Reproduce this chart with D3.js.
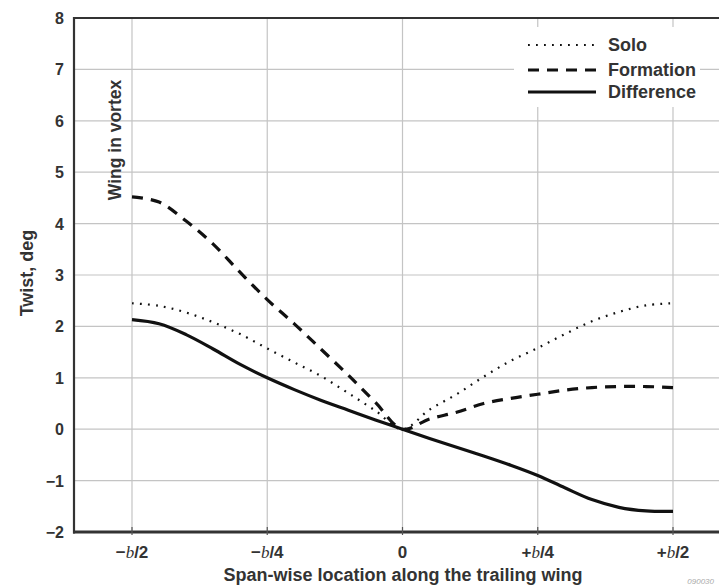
<!DOCTYPE html>
<html><head><meta charset="utf-8">
<script src="https://cdn.jsdelivr.net/npm/d3@7"></script>
<style>
html,body{margin:0;padding:0;background:#fff;}
svg{display:block;font-family:"Liberation Sans",Arial,Helvetica,sans-serif;}
</style></head>
<body>
<svg id="chart" width="719" height="587"></svg>
<script>
// span-wise location in units of b
const spanX = [-0.5,-0.45,-0.4,-0.35,-0.3,-0.25,-0.2,-0.15,-0.1,-0.05,0,0.05,0.1,0.15,0.2,0.25,0.3,0.35,0.4,0.45,0.5];
const soloTwist = [2.45,2.40,2.27,2.08,1.85,1.57,1.30,1.03,0.70,0.36,0,0.38,0.68,1.02,1.33,1.58,1.85,2.10,2.28,2.41,2.45];
const formationTwist = [4.52,4.42,4.05,3.60,3.05,2.52,2.05,1.55,1.05,0.52,0,0.20,0.33,0.50,0.60,0.68,0.76,0.81,0.83,0.83,0.81];
const differenceTwist = [2.13,2.05,1.84,1.56,1.26,1.00,0.77,0.56,0.37,0.18,0,-0.18,-0.35,-0.52,-0.70,-0.90,-1.14,-1.37,-1.52,-1.59,-1.60];
const xTickValues = [-0.5,-0.25,0,0.25,0.5];
const xTickLabels = [["\u2212","b","/2"],["\u2212","b","/4"],["","0",""],["+","b","/4"],["+","b","/2"]];
const yTickValues = [-2,-1,0,1,2,3,4,5,6,7,8];
const legendNames = ["Solo","Formation","Difference"];

const svg = d3.select("#chart");
const frame = {left:74, right:725, top:18, bottom:532};
const x = d3.scaleLinear().domain([-0.5,0.5]).range([132,673]);
const y = d3.scaleLinear().domain([-2,8]).range([532,18]);

// grid
const g = svg.append("g");
g.selectAll("line.hg").data(yTickValues).join("line")
  .attr("x1",frame.left).attr("x2",frame.right)
  .attr("y1",d=>y(d)).attr("y2",d=>y(d))
  .attr("stroke","#c4c4c4").attr("stroke-width",1.2);
g.selectAll("line.vg").data(xTickValues).join("line")
  .attr("x1",d=>x(d)).attr("x2",d=>x(d))
  .attr("y1",frame.top).attr("y2",frame.bottom)
  .attr("stroke","#c4c4c4").attr("stroke-width",1.2);

// frame lines
svg.append("line").attr("x1",frame.left).attr("x2",frame.right).attr("y1",frame.top).attr("y2",frame.top)
  .attr("stroke","#333").attr("stroke-width",2);
svg.append("line").attr("x1",frame.left).attr("x2",frame.left).attr("y1",frame.top-1).attr("y2",frame.bottom+1.5)
  .attr("stroke","#333").attr("stroke-width",2.2);
svg.append("line").attr("x1",frame.left-1).attr("x2",frame.right).attr("y1",frame.bottom).attr("y2",frame.bottom)
  .attr("stroke","#333").attr("stroke-width",3);

// small tick marks on x axis
svg.selectAll("line.xt").data(xTickValues).join("line")
  .attr("x1",d=>x(d)).attr("x2",d=>x(d)).attr("y1",frame.bottom-5).attr("y2",frame.bottom+3)
  .attr("stroke","#555").attr("stroke-width",1.2);

// y tick labels
svg.selectAll("text.yl").data(yTickValues).join("text")
  .attr("x",64).attr("y",d=>y(d)+6)
  .attr("text-anchor","end").attr("font-size",16).attr("font-weight","bold").attr("fill","#333")
  .text(d=>d<0?"\u2212"+Math.abs(d):d);

// x tick labels
const xl = svg.selectAll("text.xl").data(xTickValues).join("text")
  .attr("x",d=>x(d)).attr("y",558)
  .attr("text-anchor","middle").attr("font-size",17).attr("fill","#333");
xl.each(function(d,i){
  const t = d3.select(this);
  const parts = xTickLabels[i];
  t.append("tspan").attr("font-weight","bold").text(parts[0]);
  t.append("tspan").attr("font-style", parts[1]==="b"?"italic":"normal")
    .attr("font-family", parts[1]==="b"?"'Liberation Serif','Times New Roman',serif":null)
    .attr("font-weight", parts[1]==="b"?"normal":"bold").text(parts[1]);
  t.append("tspan").attr("font-weight","bold").text(parts[2]);
});

// axis titles
svg.append("text").attr("x",403).attr("y",581).attr("text-anchor","middle")
  .attr("font-size",18).attr("font-weight","bold").attr("fill","#333")
  .text("Span-wise location along the trailing wing");
svg.append("text").attr("transform","translate(33,273) rotate(-90)").attr("text-anchor","middle")
  .attr("font-size",18).attr("font-weight","bold").attr("fill","#333")
  .text("Twist, deg");
svg.append("text").attr("transform","translate(121,140) rotate(-90)").attr("text-anchor","middle")
  .attr("font-size",17.5).attr("font-weight","bold").attr("fill","#333")
  .text("Wing in vortex");

// lines
const line = d3.line().x(d=>x(d[0])).y(d=>y(d[1])).curve(d3.curveCatmullRom.alpha(0.5));
const series = [
  {name:"Solo", vals:soloTwist, dash:"1.8 6.2", w:2.2, cap:"butt"},
  {name:"Formation", vals:formationTwist, dash:"11 8", w:3.2, cap:"butt"},
  {name:"Difference", vals:differenceTwist, dash:null, w:3.2, cap:"butt"}
];
series.forEach(s=>{
  svg.append("path").datum(spanX.map((v,i)=>[v,s.vals[i]]))
    .attr("d",line).attr("fill","none").attr("stroke","#111")
    .attr("stroke-width",s.w).attr("stroke-dasharray",s.dash).attr("stroke-linecap",s.cap);
});

// legend
svg.append("rect").attr("x",514).attr("y",27).attr("width",186).attr("height",80).attr("fill","#fff");
const ly = [45,70,92];
legendNames.forEach((n,i)=>{
  const s = series[i];
  svg.append("line").attr("x1",528).attr("x2",596).attr("y1",ly[i]).attr("y2",ly[i])
    .attr("stroke","#111").attr("stroke-width",s.w).attr("stroke-dasharray",s.dash);
  svg.append("text").attr("x",608).attr("y",ly[i]+6).attr("font-size",18).attr("font-weight","bold")
    .attr("fill","#333").text(n);
});

// figure id
svg.append("text").attr("x",714).attr("y",584).attr("text-anchor","end").attr("font-size",8).attr("font-style","italic")
  .attr("fill","#aaa").text("090030");
</script>
</body></html>
